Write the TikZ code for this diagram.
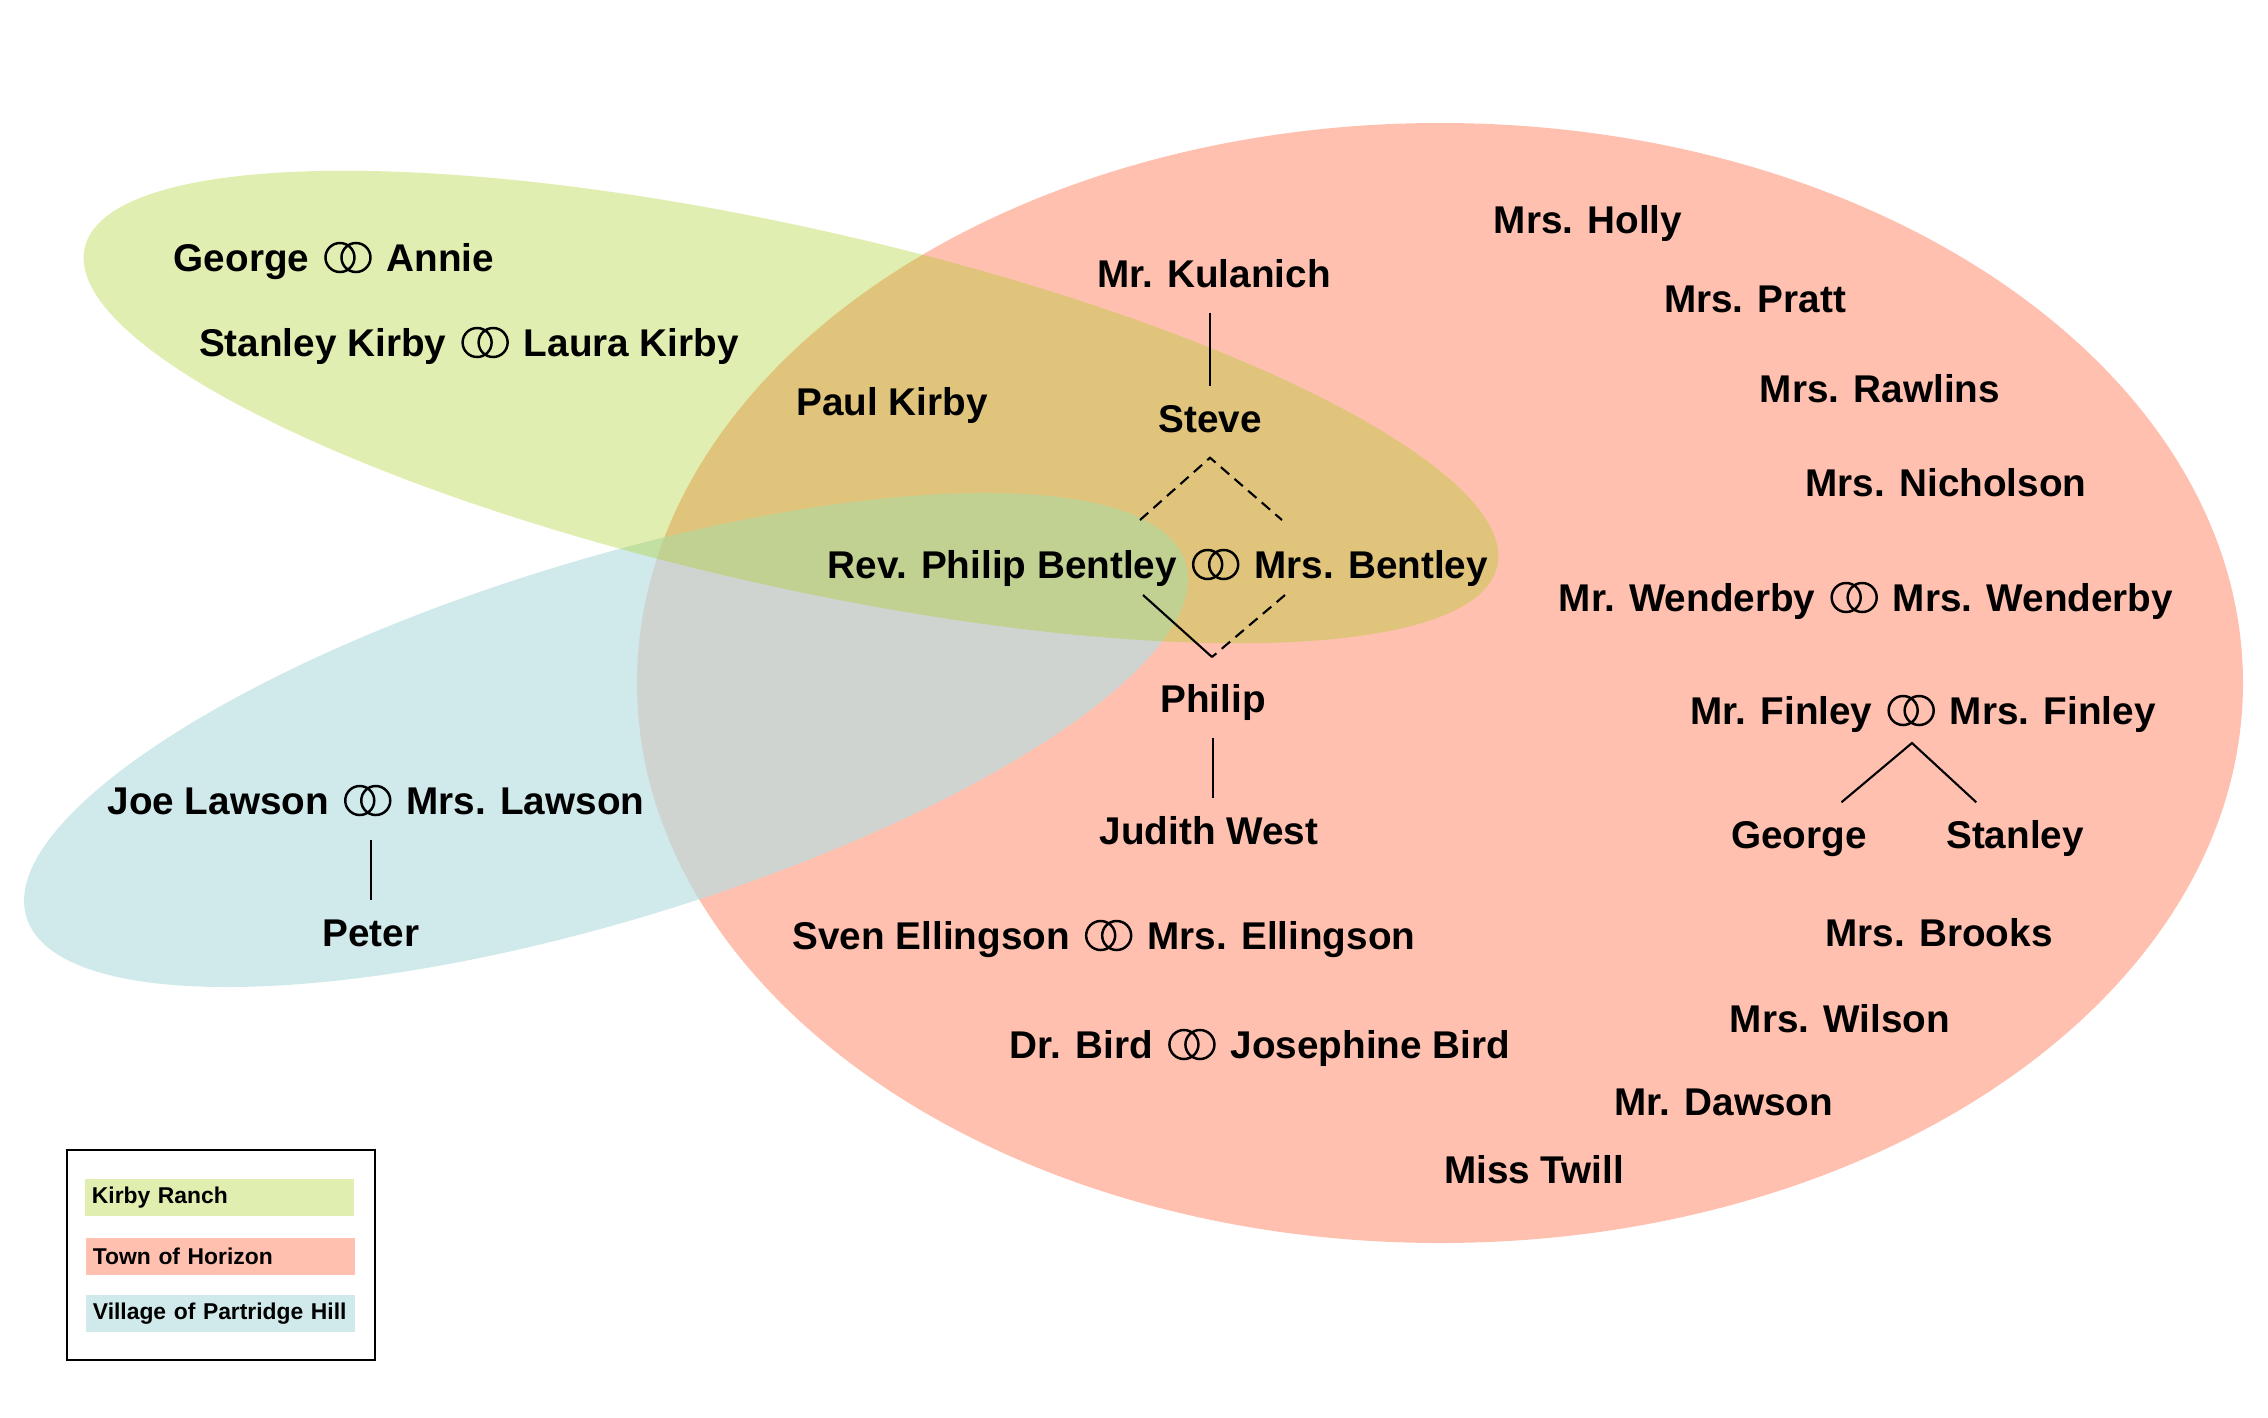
\documentclass[tikz,border=0pt]{standalone}
\usepackage{fontspec}
\setmainfont{Liberation Sans}
\usetikzlibrary{positioning}

\definecolor{kirby}{RGB}{165,206,25}
\definecolor{horizon}{RGB}{255,192,176}
\definecolor{partridge}{RGB}{185,222,224}

% wedding rings between two names
\newcommand{\wed}{\hspace{0.15cm}\tikz[baseline=0pt]{\draw[line width=0.7pt] (0.145cm,0.135cm) circle[radius=0.145cm] (0.305cm,0.135cm) circle[radius=0.145cm];}\hspace{0.15cm}}

\tikzset{
  person/.style={font=\bfseries\fontsize{11}{13}\selectfont, text height=0.28cm, text depth=0.08cm, inner sep=0.17cm},
  link/.style={line width=0.6pt},
  dashedlink/.style={link, dash pattern=on 0.11cm off 0.07cm},
  key/.style={font=\bfseries\fontsize{6.5}{8}\selectfont, minimum height=0.37cm, text width=2.55cm, inner xsep=0.07cm, inner ysep=0pt, align=left}
}

\begin{document}
\begin{tikzpicture}[x=0.01cm,y=-0.01cm]
                    \useasboundingbox (0,0) rectangle (2268,1417);

                    % the three places
                    \fill[horizon] (1440,683) ellipse [x radius=803, y radius=560];
                    \fill[partridge, fill opacity=0.67, rotate around={17:(606,740)}] (606,740) ellipse [x radius=606, y radius=180];
                    \fill[kirby, fill opacity=0.343, rotate around={-12.7:(791,407)}] (791,407) ellipse [x radius=724, y radius=179];

                    % Kirby Ranch
                    \node[person] (georgeannie) at (334,261) {George\wed Annie};
                    \node[person] (stanleylaura) at (469,346) {Stanley Kirby\wed Laura Kirby};
                    \node[person] (paul) at (892,405) {Paul Kirby};

                    % the Bentleys
                    \node[person] (kulanich) at (1214,277) {Mr. Kulanich};
                    \node[person] (steve) at (1210,422) {Steve};
                    \node[person] (bentley) at (1158,568) {Rev. Philip Bentley\wed Mrs. Bentley};
                    \node[person] (philip) at (1213,702) {Philip};
                    \node[person] (judith) at (1209,834) {Judith West};

                    \coordinate (revtop) at (1140,520);
                    \coordinate (mrstop) at (1282,520);
                    \coordinate (revbottom) at (1143,595);
                    \coordinate (mrsbottom) at (1285,595);
                    \coordinate (philiphead) at (1212,657);

                    \draw[link] (steve.north |- kulanich.south) -- (steve.north);
                    \draw[dashedlink] (revtop) -- (steve.south) -- (mrstop);
                    \draw[link] (revbottom) -- (philiphead);
                    \draw[dashedlink] (mrsbottom) -- (philiphead);
                    \draw[link] (philip.south) -- (philip.south |- judith.north);

                    % Town of Horizon
                    \node[person] (holly) at (1588,223) {Mrs. Holly};
                    \node[person] (pratt) at (1755,302) {Mrs. Pratt};
                    \node[person] (rawlins) at (1880,392) {Mrs. Rawlins};
                    \node[person] (nicholson) at (1946,486) {Mrs. Nicholson};
                    \node[person] (wenderby) at (1866,601) {Mr. Wenderby\wed Mrs. Wenderby};
                    \node[person] (finley) at (1923,714) {Mr. Finley\wed Mrs. Finley};
                    \node[person] (georgefinley) at (1799,838) {George};
                    \node[person] (stanleyfinley) at (2015,838) {Stanley};
                    \node[person] (brooks) at (1939,936) {Mrs. Brooks};
                    \node[person] (wilson) at (1840,1022) {Mrs. Wilson};
                    \node[person] (dawson) at (1724,1105) {Mr. Dawson};
                    \node[person] (twill) at (1534,1173) {Miss Twill};
                    \node[person] (ellingson) at (1104,939) {Sven Ellingson\wed Mrs. Ellingson};
                    \node[person] (bird) at (1260,1048) {Dr. Bird\wed Josephine Bird};

                    \coordinate (finleyfoot) at (1912,743);
                    \draw[link] (georgefinley) -- (finleyfoot) -- (stanleyfinley);

                    % Village of Partridge Hill
                    \node[person] (lawson) at (376,804) {Joe Lawson\wed Mrs. Lawson};
                    \node[person] (peter) at (371,936) {Peter};
                    \draw[link] (peter.north |- lawson.south) -- (peter.north);

                    % legend
                    \draw[line width=0.6pt] (67,1150) rectangle (375,1360);
                    \node[key, fill=kirby!34.3!white] (kirbykey) at (219.5,1197.5) {Kirby Ranch};
                    \node[key, fill=horizon] (horizonkey) at (220.5,1256.5) {Town of Horizon};
                    \node[key, fill=partridge!67!white] (partridgekey) at (220.5,1313.5) {Village of Partridge Hill};

                \end{tikzpicture}
\end{document}
